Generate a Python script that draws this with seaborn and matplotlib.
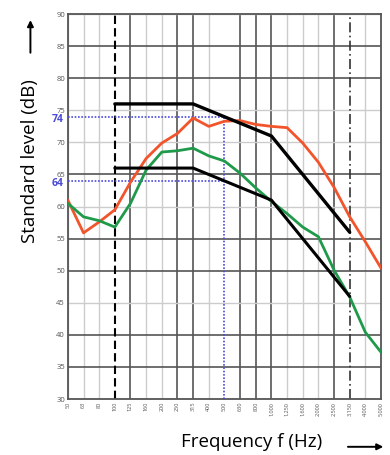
import matplotlib
matplotlib.use("Agg")
import matplotlib.pyplot as plt
import seaborn as sns
import pandas as pd
import numpy as np

# third-octave band centre frequencies (Hz)
freqs = [50, 63, 80, 100, 125, 160, 200, 250, 315, 400, 500, 630, 800,
         1000, 1250, 1600, 2000, 2500, 3150, 4000, 5000]
freq_labels = [f"{f:,}" for f in freqs]

# measured spectra (dB)
red_level = [61, 55.9, 57.6, 59.5, 63.8, 67.5, 69.9, 71.4, 73.8, 72.5, 73.3,
             73.4, 72.8, 72.5, 72.3, 69.9, 66.9, 63.0, 58.4, 54.5, 50.4]
green_level = [60.5, 58.4, 57.8, 56.8, 60.5, 65.7, 68.5, 68.7, 69.1, 67.9, 67.1,
               65.2, 62.9, 60.8, 58.9, 56.8, 55.3, 50.1, 45.9, 40.4, 37.3]

# limit curves (frequency, dB)
upper_freqs = [100, 315, 1000, 3150]
upper_level = [76, 76, 71, 56]
lower_freqs = [100, 315, 1000, 3150]
lower_level = [66, 66, 61, 46]

ref_freq = 500
ref_levels = [74, 64]

thick_freqs = [125, 250, 315, 630, 800, 1000, 2500]
thick_levels = [85, 80, 65, 55, 50, 40, 35]

pos = {f: i for i, f in enumerate(freqs)}

sns.set_style("white")
plt.rcParams['font.family'] = ['Open Sans', 'DejaVu Sans']

fig = plt.figure(figsize=(3.9, 4.55), dpi=100)
ax = fig.add_axes([0.174, 0.123, 0.803, 0.846])

# grid
for i, f in enumerate(freqs):
    if f in (100, 3150, 500):
        continue
    if f in thick_freqs:
        ax.axvline(i, color="#555555", lw=1.2, zorder=1)
    else:
        ax.axvline(i, color="#cccccc", lw=1.0, zorder=1)
for lv in range(30, 91, 5):
    if lv in thick_levels:
        ax.axhline(lv, color="#555555", lw=1.2, zorder=1)
    else:
        ax.axhline(lv, color="#cccccc", lw=1.0, zorder=1)

ax.axvline(pos[100], color="black", lw=1.5, ls=(0, (4, 2)), zorder=2)
ax.axvline(pos[3150], color="#333333", lw=1.2, ls=(0, (6, 2, 1, 2)), zorder=2)

df = pd.DataFrame({"x": range(len(freqs)), "red": red_level, "green": green_level})
sns.lineplot(data=df, x="x", y="red", color="#f2542b", lw=2.0, ax=ax, zorder=4)
sns.lineplot(data=df, x="x", y="green", color="#1f9a4a", lw=2.0, ax=ax, zorder=4)

up = pd.DataFrame({"x": [pos[f] for f in upper_freqs], "y": upper_level})
lo = pd.DataFrame({"x": [pos[f] for f in lower_freqs], "y": lower_level})
sns.lineplot(data=up, x="x", y="y", color="black", lw=2.4, ax=ax, zorder=5)
sns.lineplot(data=lo, x="x", y="y", color="black", lw=2.2, ax=ax, zorder=5)

# reference dotted lines
for lv in ref_levels:
    ax.plot([0, pos[ref_freq]], [lv, lv], color="#4b4bd6", lw=1.2, ls=(0, (1, 1)), zorder=3)
ax.plot([pos[ref_freq], pos[ref_freq]], [30, ref_levels[0]], color="#4b4bd6", lw=1.2,
        ls=(0, (1, 1)), zorder=3)

ax.set_xlim(0, len(freqs) - 1)
ax.set_ylim(30, 90)
ax.set_xticks(range(len(freqs)))
ax.set_xticklabels(freq_labels, rotation=90, fontsize=4, color="#555555")
ax.set_yticks(range(30, 91, 5))
ax.set_yticklabels([str(v) for v in range(30, 91, 5)], fontsize=5.5, color="#555555")
ax.tick_params(length=0, pad=2)
ax.set_xlabel("")
ax.set_ylabel("")
for sp in ax.spines.values():
    sp.set_color("#555555")
    sp.set_linewidth(1.3)

for lv in ref_levels:
    ax.text(-0.25, lv - 0.4, str(lv), color="#4b4bd6", fontsize=7.5, fontweight="bold",
            ha="right", va="center", transform=ax.transData)

# axis labels with arrows
fig.text(0.465, 0.028, "Frequency f (Hz)", fontsize=13.5, ha="left", va="center",
         color="black")
fig.patches.append(matplotlib.patches.FancyArrowPatch(
    (0.885, 0.018), (0.99, 0.018), transform=fig.transFigure,
    arrowstyle="-|>", mutation_scale=9, color="black", lw=1.4))
fig.text(0.078, 0.645, "Standard level (dB)", fontsize=13.5, rotation=90,
         ha="center", va="center", color="black")
fig.patches.append(matplotlib.patches.FancyArrowPatch(
    (0.078, 0.878), (0.078, 0.962), transform=fig.transFigure,
    arrowstyle="-|>", mutation_scale=9, color="black", lw=1.4))

fig.savefig("out.png", dpi=100)
